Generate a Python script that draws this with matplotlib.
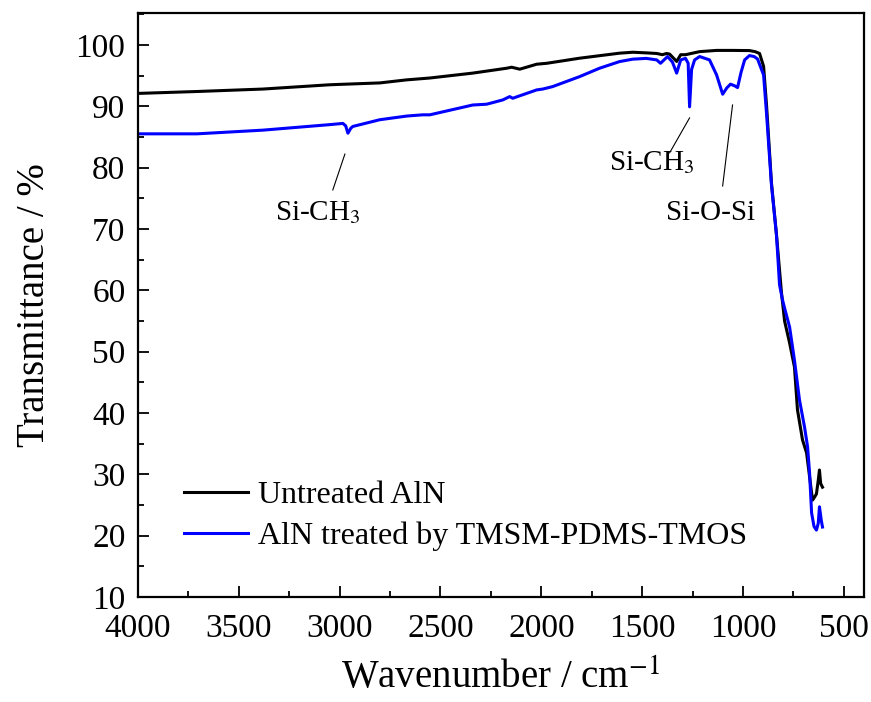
import numpy as np
import matplotlib
matplotlib.use("Agg")
import matplotlib.pyplot as plt
from matplotlib.ticker import MultipleLocator

plt.rcParams['font.family'] = ['Liberation Serif', 'DejaVu Serif']
plt.rcParams['mathtext.fontset'] = 'stix'

# untreated AlN
wn_raw = [4000, 3990, 3708, 3381, 3049, 2801, 2667, 2553, 2340, 2171, 2147, 2107,
          2023, 1973, 1810, 1612, 1547, 1480, 1428, 1400, 1379, 1364, 1329, 1309,
          1285, 1215, 1131, 1050, 968, 940, 918, 898, 883, 859, 834, 809, 794, 769,
          745, 730, 705, 685, 670, 660, 655, 645, 636, 627, 621, 615, 606]
t_raw = [92.1, 92.1, 92.4, 92.8, 93.5, 93.8, 94.3, 94.6, 95.4, 96.2, 96.36, 96.04,
         96.85, 97.0, 97.83, 98.65, 98.8, 98.7, 98.6, 98.4, 98.6, 98.5, 97.3, 98.4,
         98.4, 98.9, 99.1, 99.1, 99.07, 98.9, 98.6, 96.5, 90.0, 77.5, 69.0, 59.5, 55.0, 51.4,
         47.5, 40.5, 35.6, 33.5, 29.6, 27.0, 25.8, 26.3, 26.8, 29.0, 30.7, 28.5, 27.9]

# AlN treated by TMSM-PDMS-TMOS
wn_trt = [4000, 3708, 3381, 3049, 2984, 2970, 2959, 2945, 2935, 2801, 2667, 2588,
          2553, 2340, 2271, 2191, 2157, 2142, 2023, 1993, 1944, 1810, 1711, 1612,
          1547, 1480, 1428, 1409, 1390, 1374, 1350, 1329, 1309, 1285, 1272, 1265,
          1255, 1240, 1215, 1166, 1131, 1101, 1080, 1062, 1040, 1027, 1010, 992,
          968, 945, 928, 898, 883, 859, 834, 819, 804, 794, 769, 745, 720, 695,
          680, 670, 660, 648, 636, 627, 621, 612, 606]
t_trt = [85.5, 85.5, 86.1, 87.0, 87.2, 86.8, 85.6, 86.4, 86.7, 87.8, 88.4, 88.6,
         88.6, 90.2, 90.33, 91.03, 91.57, 91.3, 92.66, 92.8, 93.2, 94.83, 96.2, 97.28,
         97.67, 97.8, 97.55, 97.0, 97.6, 98.1, 97.2, 95.4, 97.55, 97.8, 97.0, 89.9,
         96.0, 97.55, 98.1, 97.55, 95.1, 91.96, 93.0, 93.6, 93.3, 93.04, 95.5, 97.55,
         98.26, 98.1, 97.7, 95.1, 88.6, 77.2, 69.0, 60.9, 58.4, 57.1, 54.0, 48.6, 42.1, 37.7,
         34.5, 30.2, 23.7, 21.5, 20.9, 22.0, 24.7, 22.5, 21.4]

fig = plt.figure(figsize=(8.71, 7.02), dpi=100)
ax = fig.add_axes([0.1584, 0.1496, 0.8336, 0.8319])

ax.plot(wn_raw, t_raw, color='black', lw=2.2, label='Untreated AlN')
ax.plot(wn_trt, t_trt, color='blue', lw=2.2, label='AlN treated by TMSM-PDMS-TMOS')

ax.set_xlim(4000, 400)
ax.set_ylim(10, 105.2)
ax.xaxis.set_major_locator(MultipleLocator(500))
ax.xaxis.set_minor_locator(MultipleLocator(250))
ax.yaxis.set_major_locator(MultipleLocator(10))
ax.yaxis.set_minor_locator(MultipleLocator(5))
ax.tick_params(which='both', direction='in', width=1.3, labelsize=24)
ax.tick_params(which='major', length=8)
ax.tick_params(which='minor', length=4)
ax.tick_params(axis='x', pad=12)
ax.tick_params(axis='y', pad=9)
for s in ax.spines.values():
    s.set_linewidth(1.6)

ax.set_xlabel('Wavenumber / cm$^{-1}$', fontsize=28, labelpad=11)
ax.set_ylabel('Transmittance / %', fontsize=28, labelpad=16)

# peak labels
ax.plot([2974, 3034], [82.2, 76.35], color='black', lw=0.8)
ax.text(3108, 72.6, 'Si-CH$_3$', fontsize=21, ha='center', va='center')
ax.plot([1265, 1364], [88.1, 82.4], color='black', lw=0.8)
ax.text(1453, 80.8, 'Si-CH$_3$', fontsize=21, ha='center', va='center')
ax.plot([1052, 1101], [90.2, 77.0], color='black', lw=0.8)
ax.text(1161, 72.6, 'Si-O-Si', fontsize=21, ha='center', va='center')

ax.legend(loc='lower left', bbox_to_anchor=(0.024, 0.03), frameon=False,
          fontsize=23, handlelength=2.0, handletextpad=0.3, labelspacing=0.35)

fig.savefig('out.png', dpi=100)
